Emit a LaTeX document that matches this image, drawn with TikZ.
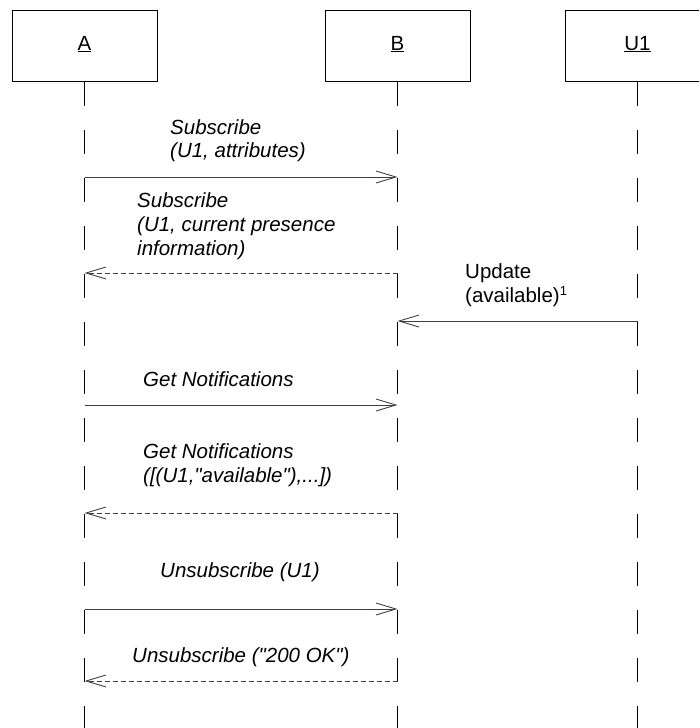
\documentclass[tikz,border=0pt]{standalone}
\usepackage{fontspec}
\setmainfont{Liberation Sans}[Ligatures=TeXOff]
\usetikzlibrary{arrows.meta}
\begin{document}
\begin{tikzpicture}[x=1pt,y=-1pt,
 lbl/.style={font=\fontsize{20.5}{24}\selectfont\itshape, anchor=base west, inner sep=0},
 plbl/.style={font=\fontsize{20.5}{24}\selectfont, anchor=base west, inner sep=0},
 obj/.style={draw, line width=0.9pt, minimum width=145pt, minimum height=71.5pt, inner sep=0},
 objlbl/.style={font=\fontsize{20.5}{24}\selectfont, anchor=base, inner sep=0},
 life/.style={line width=0.9pt, dash pattern=on 24pt off 24pt},
 msg/.style={line width=0.9pt, draw=black!75, -{Straight Barb[length=20pt,width=12pt,line width=0.9pt]}},
 ret/.style={msg, dash pattern=on 5pt off 3pt}]
\useasboundingbox (0,0) rectangle (699,728);
\clip (0,0) rectangle (699,728);
% objects
\node[obj] (A) at (84.5,45.75) {};
\node[obj] (B) at (397.5,45.75) {};
\node[obj] (U) at (637.5,45.75) {};
\node[objlbl] (Al) at (84.5,50) {\underline{A}};
\node[objlbl] (Bl) at (397.5,50) {\underline{B}};
\node[objlbl] (Ul) at (637.5,50) {\underline{U1}};
% lifeline ends
\coordinate (Aend) at (84.5,728);
\coordinate (Bend) at (397.5,728);
\coordinate (Uend) at (637.5,728);
\draw[life] (A.south) -- (Aend);
\draw[life] (B.south) -- (Bend);
\draw[life] (U.south) -- (Uend);
% message points
\coordinate (a1) at (84.5,177);  \coordinate (b1) at (397.5,177);
\coordinate (a2) at (84.5,273);  \coordinate (b2) at (397.5,273);
\coordinate (b3) at (397.5,321); \coordinate (u3) at (637.5,321);
\coordinate (a4) at (84.5,405);  \coordinate (b4) at (397.5,405);
\coordinate (a5) at (84.5,513);  \coordinate (b5) at (397.5,513);
\coordinate (a6) at (84.5,609);  \coordinate (b6) at (397.5,609);
\coordinate (a7) at (84.5,681);  \coordinate (b7) at (397.5,681);
\draw[msg] (a1) -- (b1);
\draw[ret] (b2) -- (a2);
\draw[msg] (u3) -- (b3);
\draw[msg] (a4) -- (b4);
\draw[ret] (b5) -- (a5);
\draw[msg] (a6) -- (b6);
\draw[ret] (b7) -- (a7);
% labels
\node[lbl] (t1a) at (170,134) {Subscribe};
\node[lbl] (t1b) at (170,157) {(U1, attributes)};
\node[lbl] (t2a) at (137,207) {Subscribe};
\node[lbl] (t2b) at (137,231) {(U1, current presence};
\node[lbl] (t2c) at (137,255) {information)};
\node[plbl] (t3a) at (465,278) {Update};
\node[plbl] (t3b) at (465,302) {(available)\raisebox{7pt}{\fontsize{13}{15}\selectfont 1}};
\node[lbl] (t4) at (143,386) {Get Notifications};
\node[lbl] (t5a) at (143,458) {Get Notifications};
\node[lbl] (t5b) at (143,482) {([(U1,"available"),...])};
\node[lbl] (t6) at (160,577) {Unsubscribe (U1)};
\node[lbl] (t7) at (132,662) {Unsubscribe ("200 OK")};
\end{tikzpicture}
\end{document}
